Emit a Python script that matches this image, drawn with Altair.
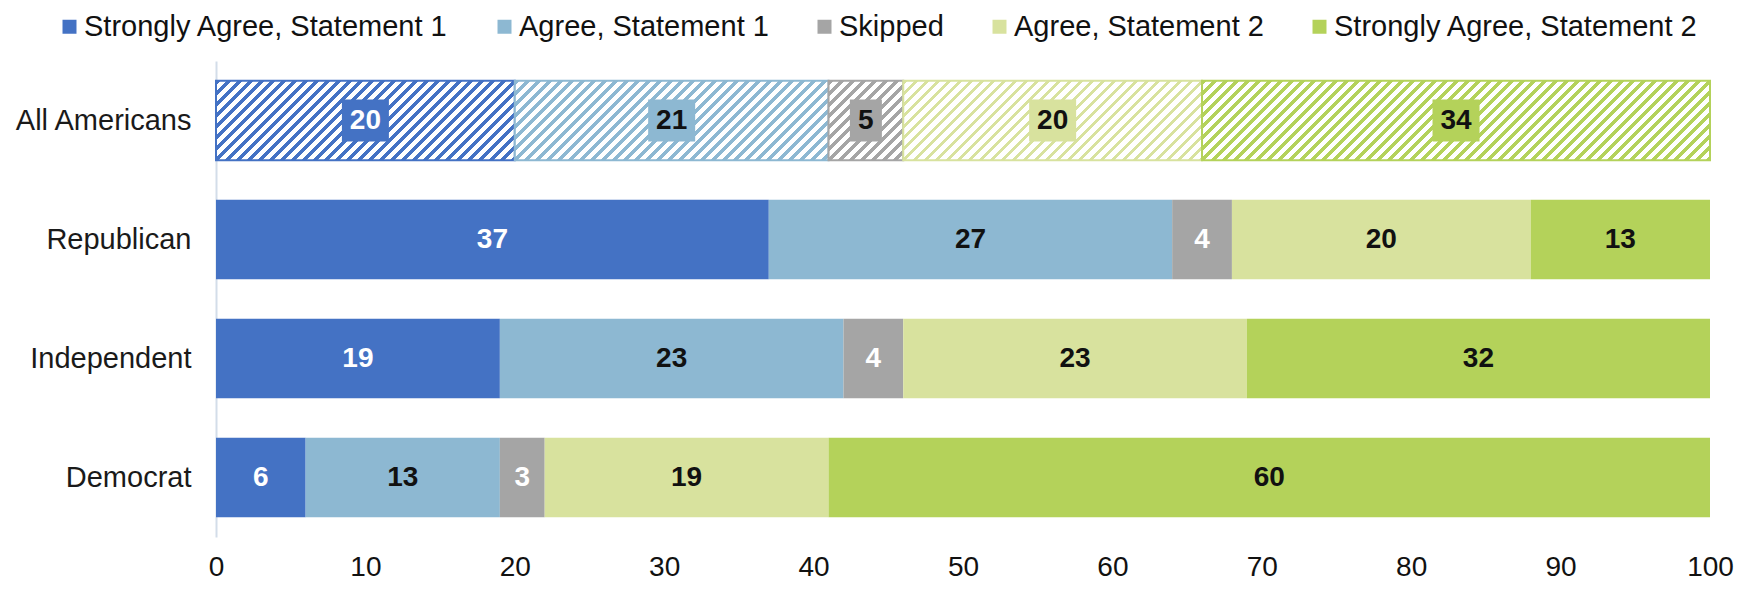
import altair as alt
import pandas as pd

# ---------------- data ----------------
groups = ["All Americans", "Republican", "Independent", "Democrat"]
categories = [
    "Strongly Agree, Statement 1",
    "Agree, Statement 1",
    "Skipped",
    "Agree, Statement 2",
    "Strongly Agree, Statement 2",
]
colors = ["#4472C4", "#8DB8D2", "#A5A5A5", "#D8E29E", "#B4D25A"]

# bar lengths as drawn
all_americans = [20, 21, 5, 20, 34]
republican = [37, 27, 4, 20, 12]
independent = [19, 23, 4, 23, 31]
democrat = [6, 13, 3, 19, 59]

# printed labels
all_americans_labels = [20, 21, 5, 20, 34]
republican_labels = [37, 27, 4, 20, 13]
independent_labels = [19, 23, 4, 23, 32]
democrat_labels = [6, 13, 3, 19, 60]

x_ticks = [0, 10, 20, 30, 40, 50, 60, 70, 80, 90, 100]

# ---------------- layout ----------------
PLOT_W = 1494
PLOT_H = 476
BAR_H = PLOT_H / 4 * (2 / 3)  # band height (paddingInner 1/3, paddingOuter 1/6)
FONT = "Liberation Sans"

rows = []
for g, vals, labs in [
    ("All Americans", all_americans, all_americans_labels),
    ("Republican", republican, republican_labels),
    ("Independent", independent, independent_labels),
    ("Democrat", democrat, democrat_labels),
]:
    for i, (v, l) in enumerate(zip(vals, labs)):
        rows.append({"group": g, "cat": categories[i], "order": i, "value": v, "label": l})
df = pd.DataFrame(rows)

base = alt.Chart(df).transform_stack(
    stack="value",
    groupby=["group"],
    sort=[alt.SortField("order", order="ascending")],
    as_=["x0", "x1"],
).transform_calculate(mid="(datum.x0 + datum.x1) / 2")

X = alt.X(
    "x0:Q",
    scale=alt.Scale(domain=[0, 100], nice=False),
    axis=alt.Axis(
        title=None, values=x_ticks, ticks=False, domain=False, grid=False,
        labelFontSize=28, labelFont=FONT, labelColor="#111111", labelPadding=16,
        labelFlush=False,
    ),
)
Y = alt.Y(
    "group:N",
    sort=groups,
    scale=alt.Scale(paddingInner=1 / 3, paddingOuter=1 / 6),
    axis=alt.Axis(
        title=None, ticks=False, domain=True, domainColor="#D3DDE9", domainWidth=2,
        grid=False, labelFontSize=29, labelFont=FONT, labelColor="#1a1a1a",
        labelPadding=25,
    ),
)
color_scale = alt.Scale(domain=categories, range=colors)

# solid bars for the party rows
party = base.transform_filter("datum.group != 'All Americans'").mark_bar(
    strokeWidth=0
).encode(
    x=X, x2="x1:Q", y=Y,
    color=alt.Color("cat:N", scale=color_scale, legend=alt.Legend(title=None)),
)


def hatch(color, width_px, height_px, period=11.0, line=4.8):
    """Diagonal stripe fill built as a hard-stop linear gradient."""
    total = width_px + height_px
    stops = []
    n = 0
    while n * period < total:
        a0 = n * period / total
        a1 = min((n * period + line) / total, 1.0)
        b1 = min((n + 1) * period / total, 1.0)
        stops += [
            {"offset": a0, "color": color},
            {"offset": a1, "color": color},
            {"offset": a1, "color": "#FFFFFF"},
            {"offset": b1, "color": "#FFFFFF"},
        ]
        n += 1
    r = height_px / width_px
    a = (1 + r) / (1 + r * r)
    return {"gradient": "linear", "x1": 0, "y1": 0, "x2": a, "y2": a * r, "stops": stops}


layers = [party]
for i, c in enumerate(categories):
    w = all_americans[i] * PLOT_W / 100.0
    layers.append(
        base.transform_filter(
            f"datum.group == 'All Americans' && datum.order == {i}"
        ).mark_bar(fill=hatch(colors[i], w, BAR_H), stroke=colors[i], strokeWidth=2).encode(
            x="x0:Q", x2="x1:Q", y=alt.Y("group:N", sort=groups)
        )
    )

# label boxes on the All Americans row
box2 = base.transform_filter(
    "datum.group == 'All Americans' && datum.label >= 10"
).mark_bar(height=42, xOffset=-23.5, x2Offset=23.5).encode(
    x="mid:Q", x2="mid:Q", y=alt.Y("group:N", sort=groups),
    color=alt.Color("cat:N", scale=color_scale, legend=alt.Legend(title=None)),
)
box1 = base.transform_filter(
    "datum.group == 'All Americans' && datum.label < 10"
).mark_bar(height=42, xOffset=-16, x2Offset=16).encode(
    x="mid:Q", x2="mid:Q", y=alt.Y("group:N", sort=groups),
    color=alt.Color("cat:N", scale=color_scale, legend=alt.Legend(title=None)),
)
layers += [box2, box1]

text = base.mark_text(
    font=FONT, fontSize=28, fontWeight="bold", baseline="middle", align="center"
).encode(
    x="mid:Q", y=alt.Y("group:N", sort=groups), text="label:Q",
    color=alt.condition(
        "datum.order == 0 || (datum.order == 2 && datum.group != 'All Americans')",
        alt.value("#FFFFFF"), alt.value("#111111"),
    ),
)
layers.append(text)

chart = alt.layer(*layers).properties(
    width=PLOT_W,
    height=PLOT_H,
    autosize=alt.AutoSizeParams(type="none"),
    padding={"left": 208, "top": 53, "right": 34, "bottom": 45},
).configure_view(stroke=None).configure_legend(
    orient="none",
    legendX=-161,
    legendY=-49,
    direction="horizontal",
    columns=5,
    columnPadding=41,
    padding=0,
    symbolType="square",
    symbolSize=196,
    symbolStrokeWidth=0,
    labelFontSize=29,
    labelFont=FONT,
    labelColor="#111111",
    labelOffset=0,
    labelLimit=600,
)

chart.save("out.html", embed_options={"renderer": "svg", "actions": False})
